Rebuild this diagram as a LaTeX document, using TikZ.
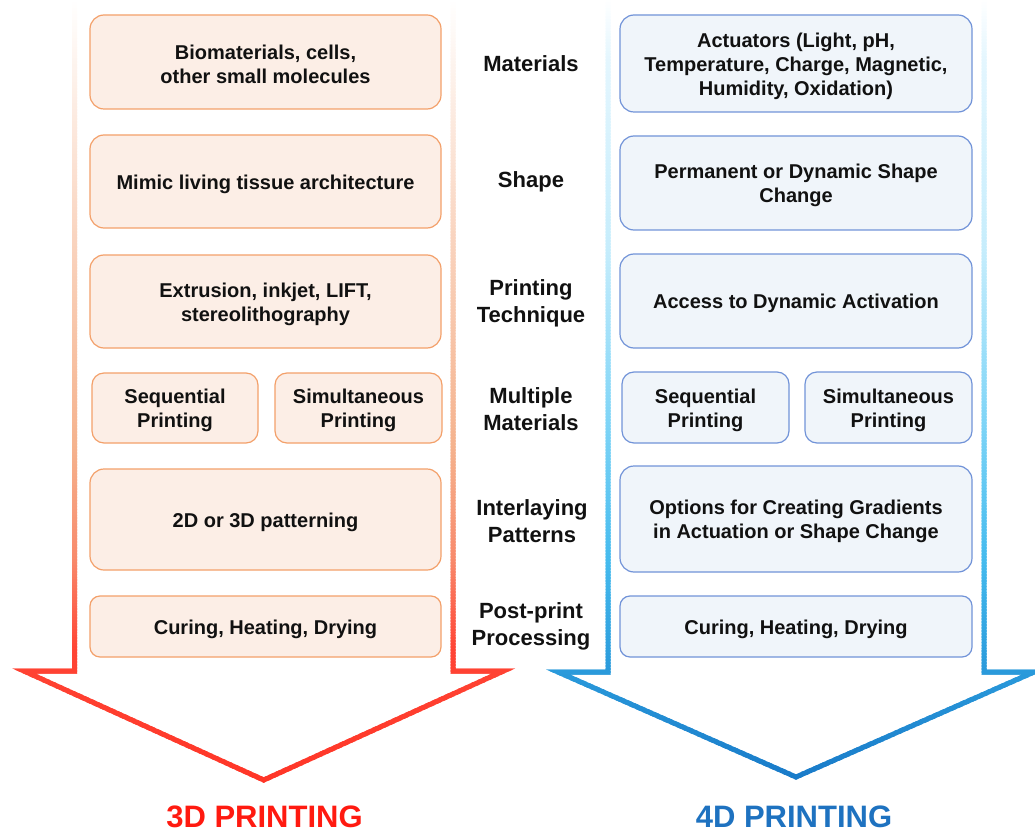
\documentclass[tikz,border=0pt]{standalone}
\usepackage{fontspec}
\setmainfont{Liberation Sans}
\usetikzlibrary{calc}

% box colours
\definecolor{lfill}{HTML}{FCEEE6}
\definecolor{lline}{HTML}{F3A06A}
\definecolor{rfill}{HTML}{F0F5FA}
\definecolor{rline}{HTML}{7193D8}
\definecolor{txt}{HTML}{111111}
\definecolor{red3d}{HTML}{FF1A10}
\definecolor{blue4d}{HTML}{1E72C0}
% outline gradient stops, 3D arrow
\definecolor{la1}{HTML}{FDF1EA}
\definecolor{la2}{HTML}{F9D2BC}
\definecolor{la3}{HTML}{F5B28D}
\definecolor{la4}{HTML}{F88A6C}
\definecolor{la5}{HTML}{FF4535}
\definecolor{la6}{HTML}{FF3426}
% outline gradient stops, 4D arrow
\definecolor{ra1}{HTML}{E4F6FE}
\definecolor{ra2}{HTML}{C6EDFC}
\definecolor{ra3}{HTML}{80D5F7}
\definecolor{ra4}{HTML}{45BBEE}
\definecolor{ra5}{HTML}{2A9ADB}
\definecolor{ra6}{HTML}{1676C6}

% stroke the block-arrow outline #1 in horizontal bands, colour graded by height
\newcommand\gradstroke[2]{%
  \foreach \ya/\yb/\ca/\cb in {#2}{%
    \pgfmathsetmacro\nb{int((\yb-\ya)/3)+1}%
    \foreach \k in {1,...,\nb}{%
      \pgfmathsetmacro\ylo{\ya+(\k-1)*(\yb-\ya)/\nb-0.4}%
      \pgfmathsetmacro\yhi{\ya+\k*(\yb-\ya)/\nb+0.4}%
      \pgfmathsetmacro\pct{100*(\k-0.5)/\nb}%
      \begin{scope}
        \clip (-20,\ylo) rectangle (1060,\yhi);
        \draw[arrowline, color=\cb!\pct!\ca]
          (#1s1) -- (#1s2) -- (#1w1) -- (#1tip) -- (#1w2) -- (#1s3) -- (#1s4);
      \end{scope}
    }%
  }%
}

\begin{document}
\begin{tikzpicture}[x=1pt, y=-1pt,
  arrowline/.style={line width=5pt, line join=miter},
  boxtext/.style={font=\bfseries\fontsize{20}{24}\selectfont, text=txt, align=center, inner sep=0pt, yshift=-2.5pt},
  lbox/.style={draw=lline, fill=lfill, line width=1.2pt, rounded corners=14pt, inner sep=0pt},
  rbox/.style={draw=rline, fill=rfill, line width=1.2pt, rounded corners=14pt, inner sep=0pt},
  rowlabel/.style={font=\bfseries\fontsize{22}{27}\selectfont, text=txt, align=center, inner sep=0pt, yshift=-1.5pt},
  title/.style={font=\bfseries\fontsize{31}{36}\selectfont, anchor=base, inner sep=0pt}]
\useasboundingbox (0,0) rectangle (1035,834);

% 3D arrow outline
\coordinate (Ls1) at (74.5,0);
\coordinate (Ls2) at (74.5,671);
\coordinate (Lw1) at (24,671);
\coordinate (Ltip) at (263.75,780);
\coordinate (Lw2) at (503.5,671);
\coordinate (Ls3) at (453,671);
\coordinate (Ls4) at (453,0);
\gradstroke{L}{0/80/white/la1, 80/250/la1/la2, 250/450/la2/la3, 450/560/la3/la4, 560/650/la4/la5, 650/795/la5/la6}

% 4D arrow outline
\coordinate (Rs1) at (608,0);
\coordinate (Rs2) at (608,672);
\coordinate (Rw1) at (558,672);
\coordinate (Rtip) at (796,777);
\coordinate (Rw2) at (1034,672);
\coordinate (Rs3) at (984,672);
\coordinate (Rs4) at (984,0);
\gradstroke{R}{0/60/white/ra1, 60/250/ra1/ra2, 250/420/ra2/ra3, 420/560/ra3/ra4, 560/672/ra4/ra5, 672/795/ra5/ra6}

% 3D printing column: boxes
\node[lbox, minimum width=351pt, minimum height=94pt] (l1) at (265.5,62) {};
\node[lbox, minimum width=351pt, minimum height=93pt] (l2) at (265.5,181.5) {};
\node[lbox, minimum width=351pt, minimum height=93pt] (l3) at (265.5,301.5) {};
\node[lbox, minimum width=166pt, minimum height=70pt, rounded corners=12pt] (l4a) at (175,408) {};
\node[lbox, minimum width=167pt, minimum height=70pt, rounded corners=12pt] (l4b) at (358.5,408) {};
\node[lbox, minimum width=351pt, minimum height=101pt] (l5) at (265.5,519.5) {};
\node[lbox, minimum width=351pt, minimum height=61pt, rounded corners=10pt] (l6) at (265.5,626.5) {};
% 3D printing column: texts
\node[boxtext] (l1t) at (l1) {Biomaterials, cells,\\other small molecules};
\node[boxtext] (l2t) at (l2) {Mimic living tissue architecture};
\node[boxtext] (l3t) at (l3) {Extrusion, inkjet, LIFT,\\stereolithography};
\node[boxtext] (l4at) at (l4a) {Sequential\\Printing};
\node[boxtext] (l4bt) at (l4b) {Simultaneous\\Printing};
\node[boxtext] (l5t) at (l5) {2D or 3D patterning};
\node[boxtext] (l6t) at (l6) {Curing, Heating, Drying};

% row labels
\node[rowlabel] (m1) at (531,62) {Materials};
\node[rowlabel] (m2) at (531,180) {Shape};
\node[rowlabel] (m3) at (531,301.5) {Printing\\Technique};
\node[rowlabel] (m4) at (531,408) {Multiple\\Materials};
\node[rowlabel] (m5) at (532,520) {Interlaying\\Patterns};
\node[rowlabel] (m6) at (531,625) {Post-print\\Processing};

% 4D printing column: boxes
\node[rbox, minimum width=352pt, minimum height=97pt] (r1) at (796,63.5) {};
\node[rbox, minimum width=352pt, minimum height=94pt] (r2) at (796,183) {};
\node[rbox, minimum width=352pt, minimum height=94pt] (r3) at (796,301) {};
\node[rbox, minimum width=167pt, minimum height=71pt, rounded corners=12pt] (r4a) at (705.5,407.5) {};
\node[rbox, minimum width=167pt, minimum height=71pt, rounded corners=12pt] (r4b) at (888.5,407.5) {};
\node[rbox, minimum width=352pt, minimum height=106pt] (r5) at (796,519) {};
\node[rbox, minimum width=352pt, minimum height=61pt, rounded corners=10pt] (r6) at (796,626.5) {};
% 4D printing column: texts
\node[boxtext] (r1t) at (r1) {Actuators (Light, pH,\\Temperature, Charge, Magnetic,\\Humidity, Oxidation)};
\node[boxtext] (r2t) at (r2) {Permanent or Dynamic Shape\\Change};
\node[boxtext] (r3t) at (r3) {Access to Dynamic Activation};
\node[boxtext] (r4at) at (r4a) {Sequential\\Printing};
\node[boxtext] (r4bt) at (r4b) {Simultaneous\\Printing};
\node[boxtext] (r5t) at (r5) {Options for Creating Gradients\\in Actuation or Shape Change};
\node[boxtext] (r6t) at (r6) {Curing, Heating, Drying};

% titles under the arrow heads
\node[title, text=red3d] (t3) at (264.5,827) {3D PRINTING};
\node[title, text=blue4d] (t4) at (794,827) {4D PRINTING};
\end{tikzpicture}
\end{document}
